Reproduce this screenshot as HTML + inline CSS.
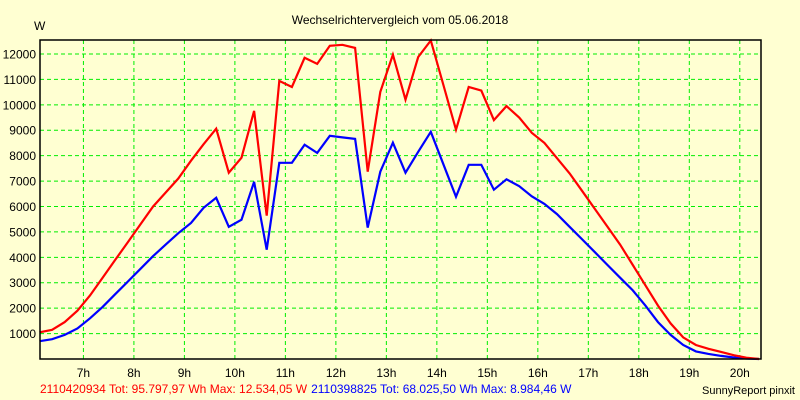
<!DOCTYPE html>
<html><head><meta charset="utf-8"><style>
body{margin:0;background:#ffffd2;}
svg{display:block;font-family:"Liberation Sans",sans-serif;}
</style></head><body>
<svg id="chart" width="800" height="400" viewBox="0 0 800 400">
<rect x="0" y="0" width="800" height="400" fill="#ffffd2"/>
<text x="400" y="24" text-anchor="middle" font-size="12" fill="#000">Wechselrichtervergleich vom 05.06.2018</text>
<text x="34" y="30" font-size="12" fill="#000">W</text>
<g id="grid"></g><g id="series"></g><g id="axes"></g>
<rect x="40" y="40" width="721" height="319" fill="none" stroke="#000" stroke-width="1.5"/>
<text x="40" y="393" font-size="12"><tspan fill="#ff0000">2110420934 Tot: 95.797,97 Wh Max: 12.534,05 W</tspan><tspan fill="#0000ff" dx="4">2110398825 Tot: 68.025,50 Wh Max: 8.984,46 W</tspan></text>
<text x="795" y="394" text-anchor="end" font-size="11" fill="#000">SunnyReport pinxit</text>
</svg>
<script>
const times=[6.13,6.38,6.63,6.88,7.13,7.38,7.63,7.88,8.13,8.38,8.63,8.88,9.13,9.38,9.63,9.88,10.13,10.38,10.63,10.88,11.13,11.38,11.63,11.88,12.13,12.38,12.63,12.88,13.13,13.38,13.63,13.88,14.13,14.38,14.63,14.88,15.13,15.38,15.63,15.88,16.13,16.38,16.63,16.88,17.13,17.38,17.63,17.88,18.13,18.38,18.63,18.88,19.13,19.38,19.63,19.88,20.13,20.38];
const redValues=[1050,1150,1450,1900,2500,3200,3900,4600,5300,6000,6550,7100,7800,8450,9060,7330,7920,9760,5640,10940,10700,11850,11610,12320,12360,12240,7370,10510,11970,10200,11880,12530,10780,9020,10700,10560,9400,9950,9500,8900,8500,7900,7300,6600,5900,5200,4500,3700,2900,2100,1400,850,550,400,280,150,50,0];
const blueValues=[700,780,950,1200,1600,2050,2550,3050,3550,4050,4500,4950,5350,5950,6340,5200,5480,6970,4300,7720,7720,8430,8110,8780,8720,8660,5170,7370,8510,7330,8150,8940,7660,6380,7640,7640,6660,7070,6800,6400,6100,5700,5200,4700,4200,3700,3200,2700,2100,1450,950,550,300,200,120,60,20,0];
const yTicks=[1000,2000,3000,4000,5000,6000,7000,8000,9000,10000,11000,12000];
const xTicks=[7,8,9,10,11,12,13,14,15,16,17,18,19,20];
const xTickLabels=["7h","8h","9h","10h","11h","12h","13h","14h","15h","16h","17h","18h","19h","20h"];
const X0=6.14,X1=20.42,L=40,R=761,T=40,B=359,YMAX=12550;
function xs(h){return L+(h-X0)/(X1-X0)*(R-L);}
function ys(v){return B-v/YMAX*(B-T);}
const NS="http://www.w3.org/2000/svg";
const grid=document.getElementById('grid'),axes=document.getElementById('axes'),ser=document.getElementById('series');
function mk(tag,attrs,parent){const e=document.createElementNS(NS,tag);for(const k in attrs)e.setAttribute(k,attrs[k]);parent.appendChild(e);return e;}
yTicks.forEach((v,i)=>{const y=ys(v);
 const g=mk('line',{x1:L,x2:R,y1:y,y2:y,stroke:'#00ee00','stroke-dasharray':'4,3','stroke-width':1},grid);
 
 
 const t=mk('text',{x:36,y:y+4.5,'text-anchor':'end','font-size':12,fill:'#000'},axes);t.textContent=v;
 
 
});
xTicks.forEach((h,i)=>{const x=xs(h);
 const g=mk('line',{x1:x,x2:x,y1:T,y2:B,stroke:'#00ee00','stroke-dasharray':'4,3','stroke-width':1},grid);
 
 
 const t=mk('text',{x:x,y:377,'text-anchor':'middle','font-size':12,fill:'#000'},axes);t.textContent=xTickLabels[i];
 
 
});
function line(vals,color,name){const p=mk('polyline',{points:times.map((h,i)=>xs(h).toFixed(1)+','+ys(vals[i]).toFixed(1)).join(' '),fill:'none',stroke:color,'stroke-width':2.2,'stroke-linejoin':'miter'},ser);
 
 }
line(blueValues,'#0000ff','series-2110398825');
line(redValues,'#ff0000','series-2110420934');
</script>
</body></html>
